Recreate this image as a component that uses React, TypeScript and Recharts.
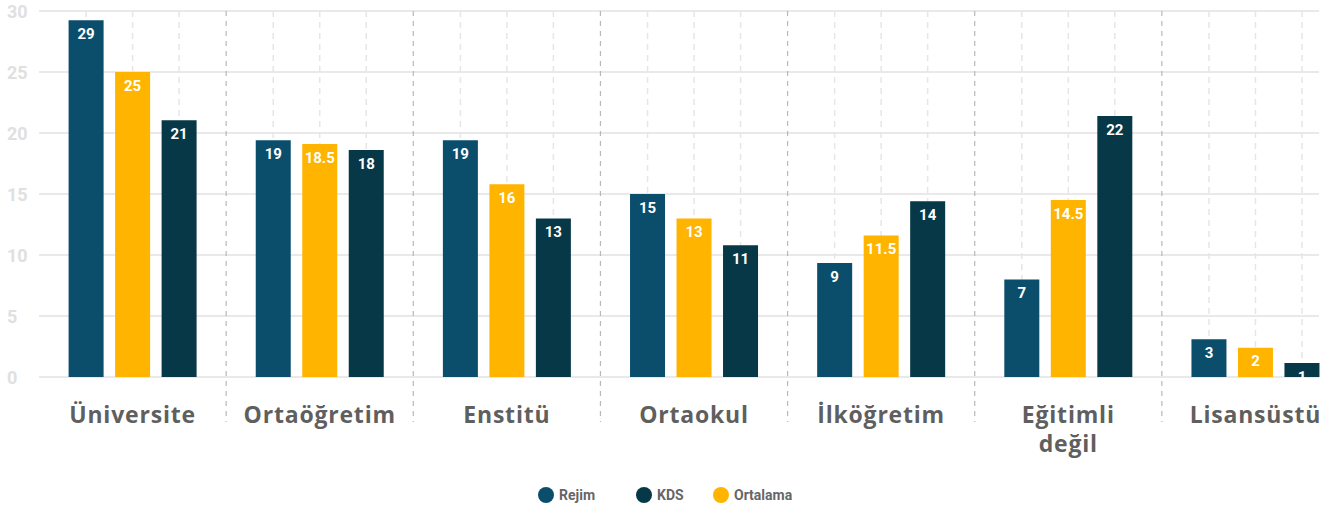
import { BarChart, Bar, XAxis, YAxis, CartesianGrid, Legend, LabelList } from 'recharts';

const categories = ['Üniversite', 'Ortaöğretim', 'Enstitü', 'Ortaokul', 'İlköğretim', 'Eğitimli değil', 'Lisansüstü'];
const rejim = [29.25, 19.4, 19.4, 15.0, 9.35, 8.0, 3.1];
const ortalama = [25.0, 19.1, 15.8, 13.0, 11.6, 14.5, 2.4];
const kds = [21.05, 18.6, 13.0, 10.8, 14.4, 21.4, 1.15];
const rejimLabels = ['29', '19', '19', '15', '9', '7', '3'];
const ortalamaLabels = ['25', '18.5', '16', '13', '11.5', '14.5', '2'];
const kdsLabels = ['21', '18', '13', '11', '14', '22', '1'];
const yTicks = [0, 5, 10, 15, 20, 25, 30];

const data = categories.map((name, i) => ({
  name,
  rejim: rejim[i],
  ortalama: ortalama[i],
  kds: kds[i],
  rejimLabel: rejimLabels[i],
  ortalamaLabel: ortalamaLabels[i],
  kdsLabel: kdsLabels[i],
}));

// layout
const CHART_W = 1350;
const CHART_H = 511;
const MARGIN = { top: 11, right: 1, left: 0, bottom: 0 };
const Y_AXIS_W = 39;
const X_AXIS_H = 94;
const LEGEND_H = 40;
const PLOT_BOTTOM = CHART_H - MARGIN.bottom - LEGEND_H - X_AXIS_H;
const BAND = (CHART_W - MARGIN.left - MARGIN.right - Y_AXIS_W) / categories.length;

const COLORS = { rejim: '#0b4e6c', kds: '#073848', ortalama: '#ffb400' };

const legendItems = [
  { label: 'Rejim', color: COLORS.rejim, width: 98 },
  { label: 'KDS', color: COLORS.kds, width: 77 },
  { label: 'Ortalama', color: COLORS.ortalama, width: 90 },
];

const valueLabelStyle = {
  fill: '#fff',
  fontSize: 15,
  fontWeight: 700,
  fontFamily: "'Liberation Sans Narrow', 'Roboto', sans-serif",
};

function YTick({ y, payload }: any) {
  return (
    <text x={7} y={y} dy={7} textAnchor="start" fill="#e0e0e0" fontSize={18} fontWeight={700} fontFamily="Roboto, sans-serif">
      {payload.value}
    </text>
  );
}

function CategoryTick({ x, y, payload }: any) {
  const sx = x + BAND / 2;
  // long labels (two words) go on two lines
  const lines = String(payload.value).split(' ');
  return (
    <g>
      <line
        x1={sx}
        x2={sx}
        y1={MARGIN.top}
        y2={PLOT_BOTTOM + 45}
        stroke="#b8b8b8"
        strokeWidth={1.2}
        strokeDasharray="5 5"
      />
      <text
        x={x}
        y={y + 38}
        textAnchor="middle"
        fill="#5f5f5f"
        fontSize={23}
        fontWeight={700}
        letterSpacing={0.8}
        fontFamily="'Open Sans', sans-serif"
      >
        {lines.map((ln, i) => (
          <tspan key={i} x={x} dy={i === 0 ? 0 : 29}>
            {ln}
          </tspan>
        ))}
      </text>
    </g>
  );
}

function centerLine(props: any) {
  const cx = props.x + props.width / 2;
  return (
    <line
      key={`bg-${props.index}`}
      x1={cx}
      x2={cx}
      y1={props.y}
      y2={props.y + props.height}
      stroke="#e6e6e6"
      strokeWidth={1.5}
      strokeDasharray="6 5"
    />
  );
}

function LegendContent() {
  return (
    <div style={{ display: 'flex', paddingLeft: 538, paddingTop: 8, height: 32 }}>
      {legendItems.map((it) => (
        <div key={it.label} style={{ display: 'flex', alignItems: 'center', width: it.width }}>
          <span style={{ width: 16, height: 16, borderRadius: 8, background: it.color, display: 'inline-block' }} />
          <span
            style={{
              marginLeft: 5,
              color: '#666',
              fontSize: 14,
              fontWeight: 700,
              fontFamily: "'Liberation Sans Narrow', 'Roboto', sans-serif",
            }}
          >
            {it.label}
          </span>
        </div>
      ))}
    </div>
  );
}

export default function App() {
  return (
    <div style={{ position: 'absolute', left: 0, top: 0, width: 1341, height: 511, overflow: 'hidden', background: '#fff' }}>
      <BarChart
        width={CHART_W}
        height={CHART_H}
        data={data}
        margin={MARGIN}
        barCategoryGap={29.6}
        barGap={11.5}
      >
        <CartesianGrid vertical={false} stroke="#e2e2e2" strokeWidth={1.5} width={1280} />
        <XAxis dataKey="name" height={X_AXIS_H} axisLine={false} tickLine={false} interval={0} tick={<CategoryTick />} />
        <YAxis width={Y_AXIS_W} domain={[0, 30]} ticks={yTicks} axisLine={false} tickLine={false} tick={<YTick />} />
        <Legend verticalAlign="bottom" height={LEGEND_H} content={<LegendContent />} wrapperStyle={{ left: 0, width: CHART_W }} />
        <Bar dataKey="rejim" fill={COLORS.rejim} isAnimationActive={false} background={centerLine}>
          <LabelList dataKey="rejimLabel" position="insideTop" offset={8} style={valueLabelStyle} />
        </Bar>
        <Bar dataKey="ortalama" fill={COLORS.ortalama} isAnimationActive={false} background={centerLine}>
          <LabelList dataKey="ortalamaLabel" position="insideTop" offset={8} style={valueLabelStyle} />
        </Bar>
        <Bar dataKey="kds" fill={COLORS.kds} isAnimationActive={false} background={centerLine}>
          <LabelList dataKey="kdsLabel" position="insideTop" offset={8} style={valueLabelStyle} />
        </Bar>
      </BarChart>
    </div>
  );
}
